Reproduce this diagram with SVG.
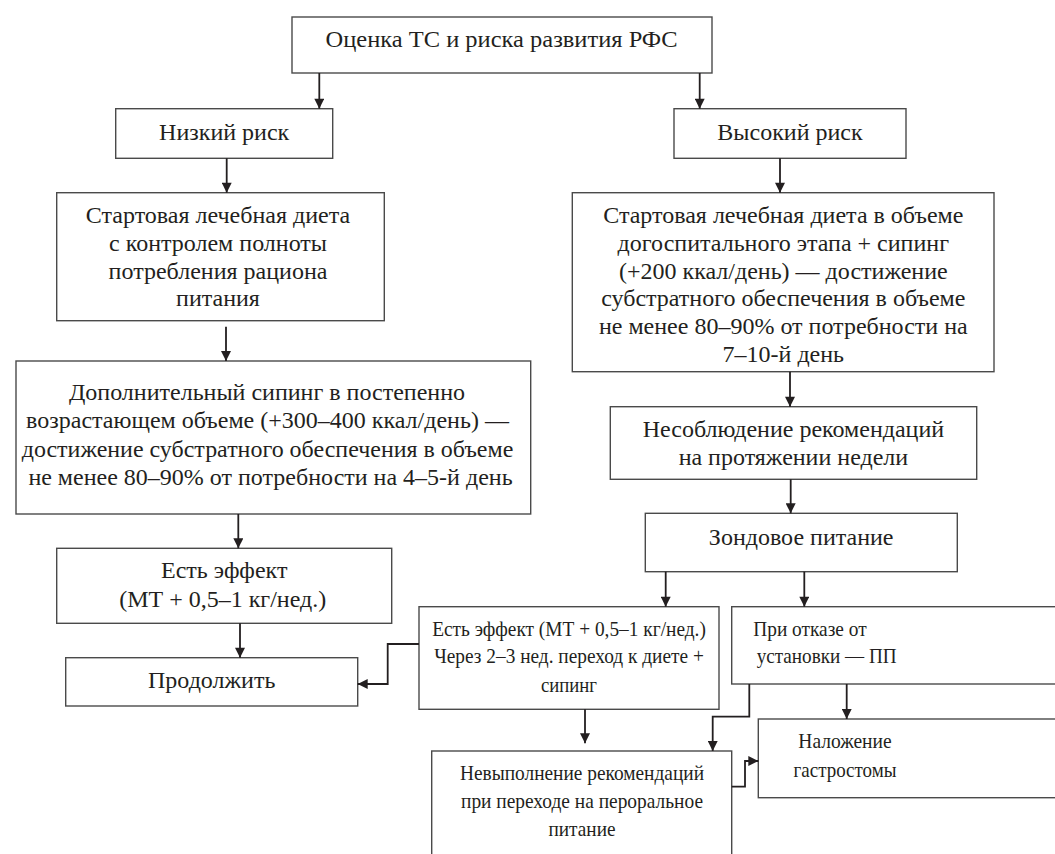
<svg xmlns="http://www.w3.org/2000/svg" width="1055" height="854" viewBox="0 0 1055 854">
<defs>
<style>
.box{fill:#fff;stroke:#4a4a4a;stroke-width:1.4}
.t{font-family:"Liberation Serif","Times New Roman",serif;font-size:24px;fill:#231f20;text-anchor:middle}
.n{font-size:21.5px}
.ts{text-anchor:start}
.c{fill:none;stroke:#231f20;stroke-width:1.8}
</style>
<marker id="ah" markerUnits="userSpaceOnUse" markerWidth="11" markerHeight="10" refX="10" refY="5" orient="auto" viewBox="0 0 10 10">
<path d="M0,0 L10,5 L0,10 z" fill="#231f20"/>
</marker>
</defs>
<rect width="1055" height="854" fill="#fff"/>
<g id="n1"><rect class="box" x="292" y="17" width="420" height="56"/><text class="t" x="501.5" y="47" textLength="352" lengthAdjust="spacingAndGlyphs">Оценка ТС и риска развития РФС</text></g>
<g id="n2"><rect class="box" x="115.7" y="108.7" width="217" height="49.6"/><text class="t" x="224.2" y="140">Низкий риск</text></g>
<g id="n3"><rect class="box" x="674" y="108.7" width="232" height="49.6"/><text class="t" x="790" y="140">Высокий риск</text></g>
<g id="n4"><rect class="box" x="56.7" y="192.7" width="327.6" height="128"/>
<text class="t" x="218" y="223.3">Стартовая лечебная диета</text>
<text class="t" x="218" y="251">с контролем полноты</text>
<text class="t" x="218" y="278.7">потребления рациона</text>
<text class="t" x="218" y="306.4">питания</text></g>
<g id="n5"><rect class="box" x="572.3" y="192.7" width="421.7" height="179"/>
<text class="t" x="783.3" y="223.3">Стартовая лечебная диета в объеме</text>
<text class="t" x="783.3" y="251">догоспитального этапа + сипинг</text>
<text class="t" x="783.3" y="278.7">(+200 ккал/день) — достижение</text>
<text class="t" x="783.3" y="306.4">субстратного обеспечения в объеме</text>
<text class="t" x="783.3" y="334">не менее 80–90% от потребности на</text>
<text class="t" x="783.3" y="361.8">7–10-й день</text></g>
<g id="n6"><rect class="box" x="16" y="361" width="514.7" height="153"/>
<text class="t" x="267" y="400">Дополнительный сипинг в постепенно</text>
<text class="t" x="267.5" y="428.3">возрастающем объеме (+300–400 ккал/день) —</text>
<text class="t" x="267.5" y="456.7" textLength="491.6" lengthAdjust="spacingAndGlyphs">достижение субстратного обеспечения в объеме</text>
<text class="t" x="270.5" y="485">не менее 80–90% от потребности на 4–5-й день</text></g>
<g id="n7"><rect class="box" x="56.7" y="548.3" width="335" height="75"/>
<text class="t" x="224.2" y="578.3">Есть эффект</text>
<text class="t" x="222.7" y="606.7">(МТ + 0,5–1 кг/нед.)</text></g>
<g id="n8"><rect class="box" x="65.7" y="657.7" width="292" height="48.3"/><text class="t" x="211.7" y="688.3">Продолжить</text></g>
<g id="n9"><rect class="box" x="610.3" y="406.7" width="366.4" height="72.6"/>
<text class="t" x="793.4" y="436.7">Несоблюдение рекомендаций</text>
<text class="t" x="793.4" y="465">на протяжении недели</text></g>
<g id="n10"><rect class="box" x="645.3" y="513.3" width="312" height="58.4"/><text class="t" x="801.2" y="545">Зондовое питание</text></g>
<g id="n11"><rect class="box" x="419" y="606.7" width="300" height="102.6"/>
<text class="t n" x="569" y="636" textLength="273.7" lengthAdjust="spacingAndGlyphs">Есть эффект (МТ + 0,5–1 кг/нед.)</text>
<text class="t n" x="569" y="663.3" textLength="269.7" lengthAdjust="spacingAndGlyphs">Через 2–3 нед. переход к диете +</text>
<text class="t n" x="569" y="691.7" textLength="56" lengthAdjust="spacingAndGlyphs">сипинг</text></g>
<g id="n12"><rect class="box" x="731.7" y="606.7" width="335" height="77.3"/>
<text class="t n ts" x="753.3" y="636" textLength="113.3" lengthAdjust="spacingAndGlyphs">При отказе от</text>
<text class="t n ts" x="756.7" y="663.3" textLength="140" lengthAdjust="spacingAndGlyphs">установки — ПП</text></g>
<g id="n13"><rect class="box" x="758.3" y="719" width="310" height="78.7"/>
<text class="t n" x="845" y="748.3" textLength="93.3" lengthAdjust="spacingAndGlyphs">Наложение</text>
<text class="t n" x="845" y="776.7" textLength="103" lengthAdjust="spacingAndGlyphs">гастростомы</text></g>
<g id="n14"><rect class="box" x="431.7" y="751" width="300" height="115"/>
<text class="t n" x="582" y="780" textLength="244" lengthAdjust="spacingAndGlyphs">Невыполнение рекомендаций</text>
<text class="t n" x="582" y="808.3" textLength="242" lengthAdjust="spacingAndGlyphs">при переходе на пероральное</text>
<text class="t n" x="582" y="836" textLength="67" lengthAdjust="spacingAndGlyphs">питание</text></g>
<g id="connectors">
<path class="c" marker-end="url(#ah)" d="M319.3,73 V108.7"/>
<path class="c" marker-end="url(#ah)" d="M699.7,73 V108.7"/>
<path class="c" marker-end="url(#ah)" d="M226.7,158.3 V192.7"/>
<path class="c" marker-end="url(#ah)" d="M780,158.3 V192.7"/>
<path class="c" marker-end="url(#ah)" d="M226,326.7 V361"/>
<path class="c" marker-end="url(#ah)" d="M790,371.7 V406.7"/>
<path class="c" marker-end="url(#ah)" d="M238.3,514 V548.3"/>
<path class="c" marker-end="url(#ah)" d="M790.7,479.3 V513.3"/>
<path class="c" marker-end="url(#ah)" d="M240,623.3 V657.7"/>
<path class="c" marker-end="url(#ah)" d="M665.7,571.7 V606.7"/>
<path class="c" marker-end="url(#ah)" d="M804.3,571.7 V606.7"/>
<path class="c" marker-end="url(#ah)" d="M585,709.3 V743.3"/>
<path class="c" marker-end="url(#ah)" d="M749.3,684 V716.7 H712.7 V751"/>
<path class="c" marker-end="url(#ah)" d="M846.7,684 V719"/>
<path class="c" marker-end="url(#ah)" d="M731.7,786.7 H745 V761 H758.3"/>
<path class="c" marker-end="url(#ah)" d="M419,644 H387.7 V684 H357.7"/>
</g>
</svg>
